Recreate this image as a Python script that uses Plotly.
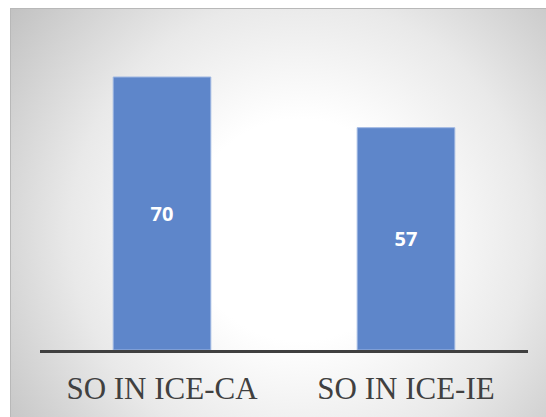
import base64
import plotly.graph_objects as go

# Chart data
categories = ["SO IN ICE-CA", "SO IN ICE-IE"]
values = [70, 57]

W, H = 546, 417
ML, MR, MT, MB = 40, 18, 38, 67
plot_w = W - ML - MR
plot_h = H - MT - MB

# Panel with a soft radial gradient (white centre fading to grey edges)
panel_x0, panel_y0 = 10, 8
panel_w, panel_h = W - panel_x0, H - panel_y0
svg = f"""<svg xmlns='http://www.w3.org/2000/svg' width='{panel_w}' height='{panel_h}'>
<defs><radialGradient id='g' gradientUnits='userSpaceOnUse' cx='290' cy='222' r='370'>
<stop offset='0' stop-color='#ffffff'/>
<stop offset='0.3' stop-color='#ffffff'/>
<stop offset='0.62' stop-color='#e9e9e9'/>
<stop offset='1' stop-color='#c0c0c0'/>
</radialGradient></defs>
<rect x='0' y='0' width='{panel_w}' height='{panel_h}' fill='url(#g)'/>
<line x1='0.5' y1='0' x2='0.5' y2='{panel_h}' stroke='#b8b8b8' stroke-width='1'/>
<line x1='0' y1='0.5' x2='{panel_w}' y2='0.5' stroke='#b8b8b8' stroke-width='1'/>
</svg>"""
svg_uri = "data:image/svg+xml;base64," + base64.b64encode(svg.encode()).decode()

fig = go.Figure(
    go.Bar(
        x=categories,
        y=values,
        marker=dict(color="#5E86CA", line=dict(color="#9fb7e2", width=1)),
        texttemplate="%{y}",
        textposition="inside",
        insidetextanchor="middle",
        textangle=0,
        textfont=dict(family="Open Sans", size=20, color="white", weight="bold"),
        hoverinfo="skip",
    )
)

fig.add_layout_image(
    source=svg_uri,
    xref="paper", yref="paper",
    x=(panel_x0 - ML) / plot_w,
    y=(H - MB - panel_y0) / plot_h,
    sizex=panel_w / plot_w,
    sizey=panel_h / plot_h,
    xanchor="left", yanchor="top",
    sizing="stretch",
    layer="below",
)

fig.update_layout(
    width=W, height=H,
    margin=dict(l=ML, r=MR, t=MT, b=MB),
    paper_bgcolor="white",
    plot_bgcolor="rgba(0,0,0,0)",
    bargap=0.6,
    showlegend=False,
    hovermode=False,
    xaxis=dict(
        showline=True, linecolor="#404040", linewidth=3,
        showgrid=False, zeroline=False, ticks="",
        ticklabelstandoff=9,
        tickfont=dict(family="Liberation Serif", size=31, color="#404040"),
        fixedrange=True,
    ),
    yaxis=dict(
        range=[0, 80], visible=False, showgrid=False, zeroline=False,
        fixedrange=True,
    ),
)

fig.write_html("out.html", config={"displayModeBar": False})
